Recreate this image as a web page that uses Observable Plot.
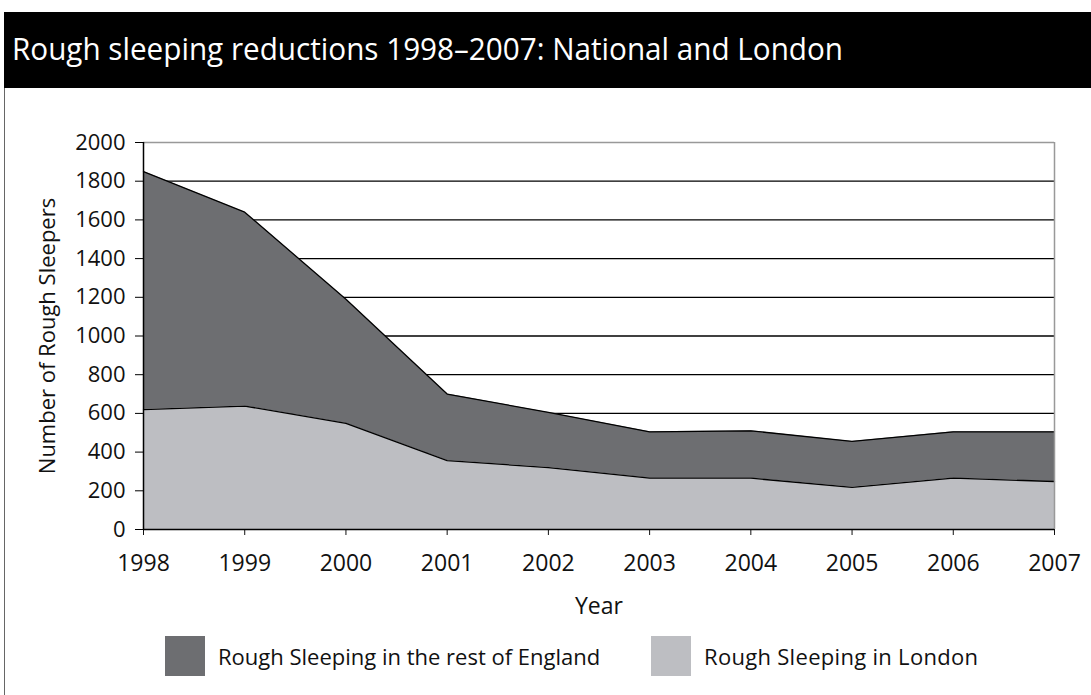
<!DOCTYPE html>
<html>
<head>
<meta charset="utf-8">
<script src="https://cdn.jsdelivr.net/npm/d3@7"></script>
<script src="https://cdn.jsdelivr.net/npm/@observablehq/plot@0.6"></script>
<style>
  html, body { margin: 0; padding: 0; background: #fff; }
  body { width: 1091px; height: 695px; position: relative; overflow: hidden; font-family: "Open Sans", sans-serif; }
  #frame { position: absolute; left: 4px; top: 12px; width: 1087px; height: 690px; border-left: 1.5px solid #666; }
  #band { position: absolute; left: 4px; top: 12px; width: 1087px; height: 76px; background: #000; }
  #title { position: absolute; left: 12px; top: 28px; color: #fff; font-size: 31px; white-space: nowrap; transform-origin: 0 0; line-height: 40px; }
  #chart { position: absolute; left: 0; top: 88px; }
  .legend-item { position: absolute; top: 636px; height: 40px; display: flex; align-items: center; font-size: 22px; color: #111; white-space: nowrap; }
  .sw { width: 40px; height: 40px; margin-right: 13px; }
</style>
</head>
<body>
<div id="frame"></div>
<div id="band"></div>
<div id="title">Rough sleeping reductions 1998–2007: National and London</div>
<div id="chart"></div>
<div class="legend-item" style="left:165px"><div class="sw" style="background:#6d6e71"></div><span>Rough Sleeping in the rest of England</span></div>
<div class="legend-item" style="left:651px"><div class="sw" style="background:#bdbec2"></div><span style="letter-spacing:0.3px">Rough Sleeping in London</span></div>
<script>
// Data
const years = [1998, 1999, 2000, 2001, 2002, 2003, 2004, 2005, 2006, 2007];
const london = [620, 638, 548, 356, 320, 265, 265, 218, 265, 248];
const restOfEngland = [1230, 1002, 642, 344, 285, 240, 245, 237, 240, 257];
const seriesNames = ["Rough Sleeping in London", "Rough Sleeping in the rest of England"];
const seriesColors = ["#bdbec2", "#6d6e71"];
const yTicks = [0, 200, 400, 600, 800, 1000, 1200, 1400, 1600, 1800, 2000];
const gridValues = [200, 400, 600, 800, 1000, 1200, 1400, 1600, 1800];

// fit title width
const t = document.getElementById("title");
const w = t.getBoundingClientRect().width;
t.style.transform = `scaleX(${831 / w})`;

const data = [];
years.forEach((yr, i) => {
  data.push({year: yr, series: seriesNames[0], value: london[i]});
  data.push({year: yr, series: seriesNames[1], value: restOfEngland[i]});
});

const chart = Plot.plot({
  width: 1091,
  height: 540,
  marginLeft: 143,
  marginRight: 37,
  marginTop: 54,
  marginBottom: 99,
  style: {fontFamily: "Open Sans, sans-serif", fontSize: "22px", color: "#111", background: "transparent"},
  x: {domain: [1998, 2007]},
  y: {domain: [0, 2000]},
  color: {domain: seriesNames, range: seriesColors},
  marks: [
    Plot.ruleY(gridValues, {stroke: "#000", strokeWidth: 1.3}),
    Plot.areaY(data, {x: "year", y: "value", z: "series", fill: "series", order: seriesNames, fillOpacity: 1}),
    Plot.lineY(data, Plot.stackY2({x: "year", y: "value", z: "series", order: seriesNames, stroke: "#000", strokeWidth: 1.3})),
    Plot.ruleY([2000], {stroke: "#999", strokeWidth: 1.5}),
    Plot.ruleX([2007], {stroke: "#999", strokeWidth: 1.5}),
    Plot.axisY({ticks: yTicks, tickSize: 8, tickPadding: 10, tickFormat: "d", label: "Number of Rough Sleepers", labelAnchor: "center", labelArrow: "none", labelOffset: 104, fontSize: 22, stroke: "#000"}),
    Plot.axisX({ticks: years, tickSize: 6, tickPadding: 19, tickFormat: "d", label: "Year", labelAnchor: "center", labelArrow: "none", labelOffset: 84, fontSize: 23}),
    Plot.ruleX([1998], {stroke: "#000", strokeWidth: 1.5}),
    Plot.ruleY([0], {stroke: "#000", strokeWidth: 1.5})
  ]
});
document.getElementById("chart").appendChild(chart);
</script>
</body>
</html>
